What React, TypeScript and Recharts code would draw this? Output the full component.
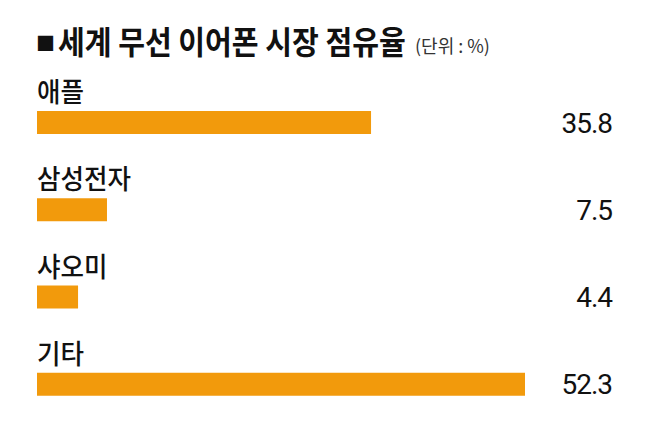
import { BarChart, Bar, XAxis, YAxis, LabelList } from "recharts";

const COMPANIES = ["애플", "삼성전자", "샤오미", "기타"];
const SHARES = [35.8, 7.5, 4.4, 52.3];
const TITLE = "세계 무선 이어폰 시장 점유율";
const UNIT = "(단위 : %)";

const BAR_COLOR = "#F29A0C";
const KR_FONT = "'Noto Sans CJK KR', 'Noto Sans', sans-serif";
const NUM_FONT = "'Liberation Sans Narrow', 'Roboto', 'Noto Sans', sans-serif";

const data = COMPANIES.map((name, i) => ({ name, share: SHARES[i] }));

// company name sits just above its bar
const NameLabel = (props: any) => {
  const { x, y, value } = props;
  const text = String(value);
  return (
    <text
      x={Number(x)}
      y={Number(y) - 9}
      fontSize={27}
      fontFamily={KR_FONT}
      fontWeight={500}
      fill="#111"
      textLength={text.length * 23.5}
      lengthAdjust="spacingAndGlyphs"
    >
      {text}
    </text>
  );
};

// value goes in a right-aligned column
const ValueLabel = (props: any) => {
  const { y, height, value } = props;
  return (
    <text
      x={612}
      y={Number(y) + Number(height) / 2 + 10}
      fontSize={28}
      fontFamily={NUM_FONT}
      fill="#111"
      textAnchor="end"
      letterSpacing={-1}
    >
      {value}
    </text>
  );
};

export default function App() {
  return (
    <div style={{ position: "relative", width: 658, height: 428, background: "#fff" }}>
      <style>{`body{margin:0}`}</style>
      <svg width={658} height={70} style={{ position: "absolute", left: 0, top: 0 }}>
        <text x={36} y={51} fontSize={19} fontFamily={KR_FONT} fill="#111">■</text>
        {/* condensed headline, squeezed horizontally */}
        <g transform="translate(58,54) scale(0.91,1)">
          <text x={0} y={0} fontSize={32} fontWeight={700} fontFamily={KR_FONT} fill="#111">
            {TITLE}
          </text>
        </g>
        <g transform="translate(415,53)">
          <text x={0} y={0} fontSize={18} fontFamily={KR_FONT} fill="#333">
            {UNIT}
          </text>
        </g>
      </svg>
      <BarChart
        width={658}
        height={428}
        data={data}
        layout="vertical"
        margin={{ top: 79, right: 133, bottom: 0, left: 37 }}
        barSize={23}
      >
        <XAxis type="number" hide domain={[0, "dataMax"]} />
        <YAxis type="category" dataKey="name" hide />
        <Bar dataKey="share" fill={BAR_COLOR} isAnimationActive={false}>
          <LabelList dataKey="name" content={NameLabel} />
          <LabelList dataKey="share" content={ValueLabel} />
        </Bar>
      </BarChart>
    </div>
  );
}
